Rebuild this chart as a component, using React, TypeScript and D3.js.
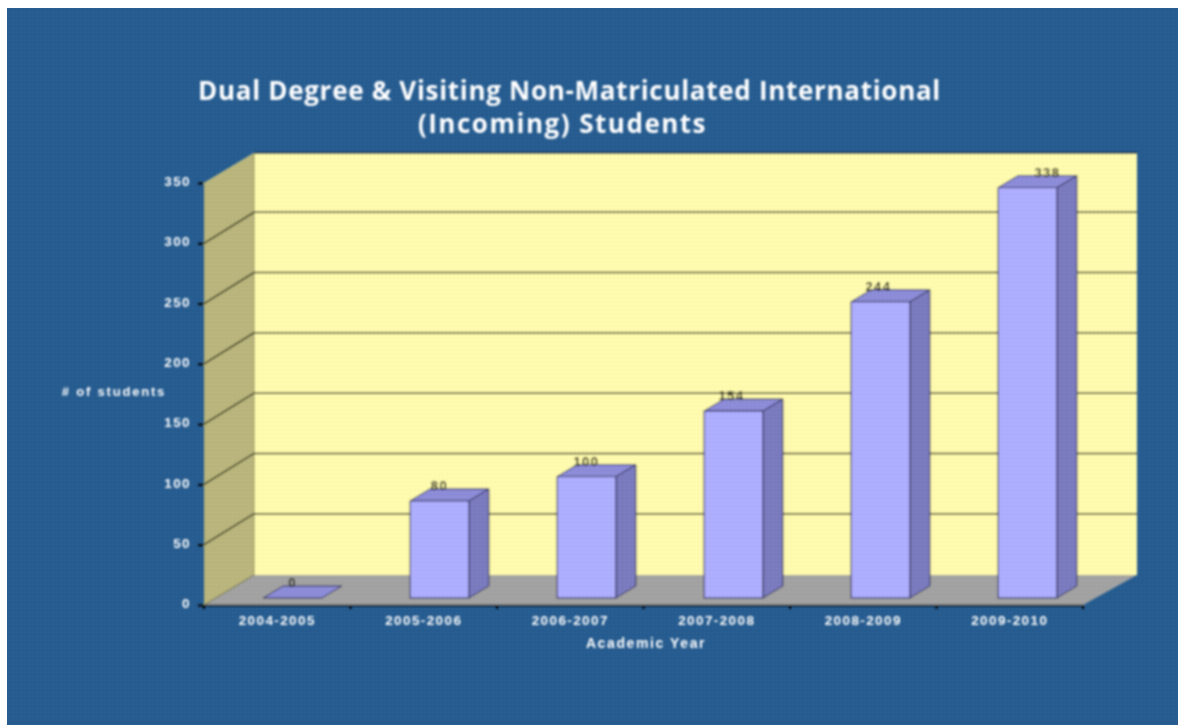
import { useEffect, useRef } from "react"
import * as d3 from "d3"

const categories = ["2004-2005", "2005-2006", "2006-2007", "2007-2008", "2008-2009", "2009-2010"]
const students = [0, 80, 100, 154, 244, 338]
const yTicks = [0, 50, 100, 150, 200, 250, 300, 350]
const titleLines = ["Dual Degree & Visiting Non-Matriculated International", "(Incoming) Students"]
// the last data label was dragged off centre in the original
const labelShift = [0, 0, 0, -2, -2, 20]

const width = 1178
const height = 725
// depth of the 3d box and of the bars inside it
const depthX = 50
const depthY = -30
const backRight = 1137
const barDepthX = 20
const barDepthY = -12
const barBase = 598

const App = () => {
  const svgRef = useRef<SVGSVGElement>(null)

  useEffect(() => {
    const svg = d3.select(svgRef.current)
    svg.selectAll("*").remove()

    const x = d3.scaleBand().domain(categories).range([204, 1083])
    const y = d3.scaleLinear().domain([0, 350]).range([605, 183])
    // bars sit further in, so they scale a little larger than the front axis
    const barX = d3.scaleBand().domain(categories).range([219, 1101]).paddingInner(0.6).paddingOuter(0.3)
    const barY = d3.scaleLinear().domain([0, 350]).range([barBase, barBase - 425])
    const barWidth = barX.bandwidth()

    const defs = svg.append("defs")
    defs.append("filter").attr("id", "soft").append("feGaussianBlur").attr("stdDeviation", 0.9)
    const pattern = defs
      .append("pattern")
      .attr("id", "dither")
      .attr("width", 4)
      .attr("height", 4)
      .attr("patternUnits", "userSpaceOnUse")
    pattern.append("rect").attr("width", 1).attr("height", 1).attr("fill", "#fff").attr("opacity", 0.03)
    pattern.append("rect").attr("x", 2).attr("y", 2).attr("width", 1).attr("height", 1).attr("fill", "#000").attr("opacity", 0.03)

    svg.append("rect").attr("width", width).attr("height", height).attr("fill", "#fff")
    svg.append("rect").attr("x", 7).attr("y", 8).attr("width", width - 7).attr("height", height - 8).attr("fill", "#265c90")

    const g = svg.append("g").attr("filter", "url(#soft)")

    const line = d3.line()
    const x0 = x.range()[0]
    const x1 = x.range()[1]

    // Walls and floor
    g.append("path")
      .attr("d", line([[x0, y(350)], [x0 + depthX, y(350) + depthY], [backRight, y(350) + depthY], [backRight, y(0) + depthY], [x0 + depthX, y(0) + depthY]]) + "Z")
      .attr("fill", "#fffbae")
    g.append("path")
      .attr("d", line([[x0, y(350)], [x0 + depthX, y(350) + depthY], [x0 + depthX, y(0) + depthY], [x0, y(0)]]) + "Z")
      .attr("fill", "#b9b57c")
    g.append("path")
      .attr("d", line([[x0, y(0)], [x0 + depthX, y(0) + depthY], [backRight, y(0) + depthY], [x1, y(0)]]) + "Z")
      .attr("fill", "#a2a2a2")

    g.append("line")
      .attr("x1", x0 + depthX)
      .attr("x2", backRight)
      .attr("y1", y(350) + depthY)
      .attr("y2", y(350) + depthY)
      .attr("stroke", "#0c2238")
      .attr("stroke-width", 1.5)
    g.append("line")
      .attr("x1", x0 + depthX)
      .attr("x2", x0 + depthX)
      .attr("y1", y(350) + depthY)
      .attr("y2", y(0) + depthY)
      .attr("stroke", "#8f8c5e")
      .attr("stroke-width", 1)

    // Gridlines
    const gridTicks = yTicks.slice(1, -1)
    g.selectAll(".grid")
      .data(gridTicks)
      .enter()
      .append("path")
      .attr("class", "grid")
      .attr("d", (d) => line([[x0, y(d)], [x0 + depthX, y(d) + depthY - 1], [backRight, y(d) + depthY - 1]]))
      .attr("fill", "none")
      .attr("stroke", "#33321c")
      .attr("stroke-width", 1.5)
    g.append("line")
      .attr("x1", x0)
      .attr("x2", x0 + depthX)
      .attr("y1", y(0))
      .attr("y2", y(0) + depthY)
      .attr("stroke", "#77754f")

    // Bars
    const bars = g
      .selectAll(".bar")
      .data(categories.map((c, i) => ({ c, v: students[i], shift: labelShift[i] })))
      .enter()
      .append("g")
      .attr("class", "bar")

    const left = (d) => barX(d.c)
    const stroke = "#2b2b55"

    bars
      .filter((d) => d.v > 0)
      .append("path")
      .attr("d", (d) => {
        const r = left(d) + barWidth
        return line([[r, barY(d.v)], [r + barDepthX, barY(d.v) + barDepthY], [r + barDepthX, barBase + barDepthY], [r, barBase]]) + "Z"
      })
      .attr("fill", "#7a7abf")
      .attr("stroke", stroke)
    bars
      .append("path")
      .attr("d", (d) => {
        const l = left(d)
        const r = l + barWidth
        return line([[l, barY(d.v)], [l + barDepthX, barY(d.v) + barDepthY], [r + barDepthX, barY(d.v) + barDepthY], [r, barY(d.v)]]) + "Z"
      })
      .attr("fill", "#8c8cd8")
      .attr("stroke", stroke)
    bars
      .filter((d) => d.v > 0)
      .append("rect")
      .attr("x", left)
      .attr("y", (d) => barY(d.v))
      .attr("width", barWidth)
      .attr("height", (d) => barBase - barY(d.v))
      .attr("fill", "#aeaeff")
      .attr("stroke", stroke)

    bars
      .append("text")
      .attr("x", (d) => left(d) + barWidth / 2 + d.shift)
      .attr("y", (d) => barY(d.v) + barDepthY + 1)
      .attr("text-anchor", "middle")
      .attr("font-family", "Liberation Sans")
      .attr("font-size", 13)
      .attr("font-weight", 700)
      .attr("letter-spacing", 1.5)
      .attr("fill", "#1a1a10")
      .text((d) => d.v)

    // Axes
    const tickText = (sel) =>
      sel
        .attr("font-family", "Liberation Sans")
        .attr("font-size", 13.5)
        .attr("font-weight", 700)
        .attr("letter-spacing", 1.4)
        .attr("fill", "#fff")

    const yAxis = g
      .append("g")
      .attr("transform", `translate(${x0},0)`)
      .call(d3.axisLeft(y).tickValues(yTicks).tickSize(6).tickPadding(7))
    yAxis.select(".domain").remove()
    yAxis.selectAll("line").attr("stroke", "#000").attr("stroke-width", 2)
    yAxis.selectAll("text").call(tickText).attr("dy", "0.2em")

    const xAxis = g
      .append("g")
      .attr("transform", `translate(0,${y(0)})`)
      .call(d3.axisBottom(x).tickSize(0).tickPadding(10).tickSizeOuter(0))
    xAxis.select(".domain").attr("stroke", "#000").attr("stroke-width", 1.5)
    xAxis.selectAll("text").call(tickText)

    g.selectAll(".xmark")
      .data(d3.range(categories.length + 1))
      .enter()
      .append("line")
      .attr("class", "xmark")
      .attr("x1", (i) => x0 + i * x.step())
      .attr("x2", (i) => x0 + i * x.step())
      .attr("y1", y(0))
      .attr("y2", y(0) + 4)
      .attr("stroke", "#000")
      .attr("stroke-width", 2)

    // Titles
    g.selectAll(".title")
      .data(titleLines)
      .enter()
      .append("text")
      .attr("class", "title")
      .attr("x", (d, i) => 569.5 - i * 7)
      .attr("y", (d, i) => 100 + i * 33)
      .attr("text-anchor", "middle")
      .attr("font-family", "Open Sans")
      .attr("font-size", 26)
      .attr("font-weight", 700)
      .attr("letter-spacing", (d, i) => (i === 0 ? 0.7 : 1.5))
      .attr("fill", "#fff")
      .text((d) => d)

    g.append("text")
      .attr("x", 114)
      .attr("y", 396)
      .attr("text-anchor", "middle")
      .attr("font-family", "Liberation Sans")
      .attr("font-size", 13)
      .attr("font-weight", 700)
      .attr("letter-spacing", 1.8)
      .attr("fill", "#fff")
      .text("# of students")
    g.append("text")
      .attr("x", 646)
      .attr("y", 648)
      .attr("text-anchor", "middle")
      .attr("font-family", "Liberation Sans")
      .attr("font-size", 14)
      .attr("font-weight", 700)
      .attr("letter-spacing", 1.6)
      .attr("fill", "#fff")
      .text("Academic Year")

    svg.append("rect").attr("x", 7).attr("y", 8).attr("width", width - 7).attr("height", height - 8).attr("fill", "url(#dither)")
  }, [])

  return <svg ref={svgRef} width={width} height={height} style={{ position: "absolute", left: 0, top: 0, display: "block" }}></svg>
}

export default App
